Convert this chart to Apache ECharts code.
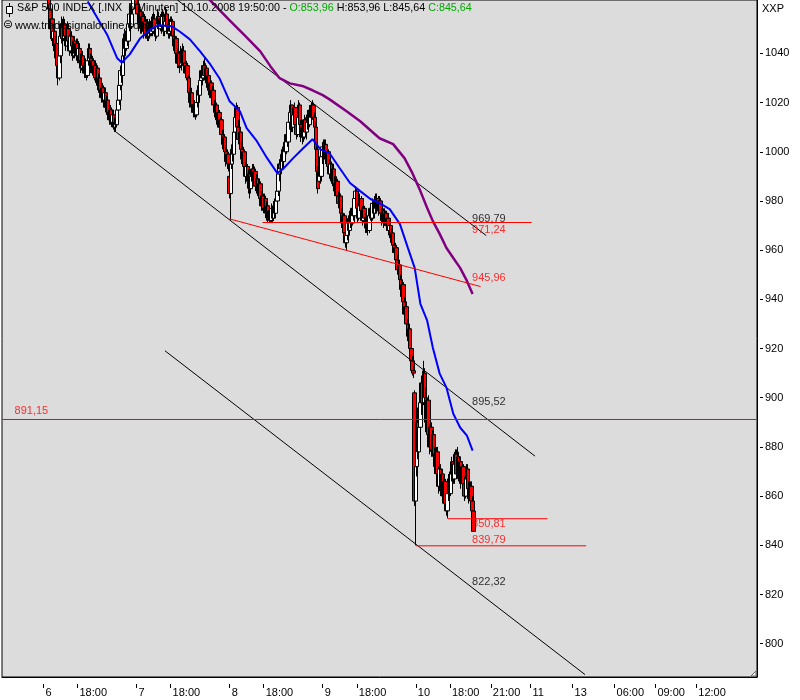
<!DOCTYPE html>
<html><head><meta charset="utf-8">
<script src="https://cdn.jsdelivr.net/npm/echarts@6/dist/echarts.min.js"></script>
<style>html,body{margin:0;padding:0;background:#fff}#c{width:800px;height:700px}</style>
</head><body><div id="c"></div>
<script>
// ---- 5-minute bars [open, close, low, high], one array per session ----
const oct6 = [
[1097,1090,1086,1099],[1090,1082,1079,1093],[1082,1078,1073,1086],[1078,1072,1068,1081],[1072,1066,1063,1076],
[1066,1058,1055,1069],[1058,1050,1046,1061],[1050,1054,1045,1057],[1054,1046,1043,1056],[1046,1049,1041,1052],
[1049,1041,1038,1050],[1041,1044,1036,1047],[1044,1035,1033,1045],[1035,1030,1027,1038],[1030,1039,1029,1041],
[1039,1047,1036,1049],[1047,1052,1044,1055],[1052,1046,1043,1054],[1046,1052,1045,1055],[1052,1047,1044,1054],
[1047,1043,1041,1050],[1043,1050,1042,1053],[1050,1045,1043,1052],[1045,1041,1039,1048],[1041,1047,1040,1050],
[1047,1043,1040,1049],[1043,1039,1037,1045],[1039,1045,1038,1047],[1045,1040,1038,1047],[1040,1044,1037,1046],
[1044,1039,1036,1046],[1039,1042,1036,1045],[1042,1037,1035,1044],[1037,1034,1032,1040],[1034,1039,1033,1041],
[1039,1035,1032,1041],[1035,1032,1030,1037],[1032,1036,1030,1038],[1036,1031,1029,1037],[1031,1037,1030,1039],
[1037,1042,1035,1044],[1042,1038,1035,1044],[1038,1034,1032,1040],[1034,1037,1031,1039],[1037,1032,1030,1038],
[1032,1035,1029,1037],[1035,1030,1028,1036],[1030,1034,1028,1036],[1034,1027,1025,1035],[1027,1030,1024,1032],
[1030,1025,1023,1031],[1025,1022,1020,1028],[1022,1026,1020,1028],[1026,1021,1018,1027],[1021,1024,1018,1026],
[1024,1018,1016,1025],[1018,1021,1015,1023],[1021,1016,1013,1022],[1016,1013,1011,1018],[1013,1017,1011,1019],
[1017,1012,1010,1018],[1012,1015,1010,1017],[1015,1010,1009,1016],[1010,1012,1008,1014],[1012,1011,1008,1015],
[1011,1017,1010,1018],[1017,1021,1015,1023],[1021,1027,1019,1028],[1027,1033,1025,1035],[1033,1031,1028,1037],
[1031,1039,1030,1042],[1039,1046,1036,1048],[1046,1042,1039,1050],[1042,1049,1041,1052],[1049,1045,1043,1053],
[1045,1052,1044,1055],[1052,1056,1049,1059],[1056,1051,1049,1060],[1051,1056,1050,1061]
];
const oct7 = [
[1058,1064,1056,1067],[1064,1069,1061,1072],[1069,1065,1062,1073],[1065,1060,1057,1068],[1060,1056,1053,1063],
[1056,1052,1049,1059],[1052,1057,1050,1060],[1057,1051,1048,1058],[1051,1055,1048,1057],[1055,1049,1046,1057],
[1049,1053,1047,1056],[1053,1048,1046,1055],[1048,1052,1046,1054],[1052,1047,1045,1054],[1047,1051,1045,1053],
[1051,1048,1046,1054],[1048,1053,1047,1055],[1053,1049,1047,1056],[1049,1054,1048,1057],[1054,1050,1047,1056],
[1050,1047,1045,1052],[1047,1052,1046,1055],[1052,1055,1050,1058],[1055,1050,1048,1057],[1050,1054,1049,1056],
[1054,1051,1048,1057],[1051,1055,1049,1058],[1055,1049,1047,1057],[1049,1053,1047,1055],[1053,1056,1051,1059],
[1056,1051,1049,1058],[1051,1048,1046,1053],[1048,1052,1046,1054],[1052,1049,1047,1055],[1049,1053,1047,1055],
[1053,1047,1045,1054],[1047,1043,1041,1049],[1043,1046,1040,1048],[1046,1040,1038,1047],[1040,1036,1034,1042],
[1036,1040,1034,1042],[1040,1035,1032,1041],[1035,1040,1034,1043],[1040,1036,1033,1042],[1036,1041,1035,1044],
[1041,1036,1034,1043],[1036,1032,1030,1038],[1032,1035,1029,1037],[1035,1030,1028,1036],[1030,1024,1022,1031],
[1024,1020,1018,1026],[1020,1024,1018,1026],[1024,1019,1017,1026],[1019,1016,1014,1021],[1016,1019,1014,1021],
[1019,1015,1013,1020],[1015,1020,1014,1022],[1020,1025,1018,1027],[1025,1023,1020,1028],[1023,1029,1022,1031],
[1029,1033,1026,1035],[1033,1030,1027,1035],[1030,1035,1029,1037],[1035,1031,1029,1038],[1031,1034,1028,1036],
[1034,1028,1026,1035],[1028,1031,1025,1033],[1031,1025,1023,1032],[1025,1028,1022,1030],[1028,1022,1020,1029],
[1022,1025,1019,1027],[1025,1019,1017,1026],[1019,1016,1014,1021],[1016,1019,1013,1020],[1019,1013,1011,1020],
[1013,1016,1011,1018],[1016,1010,1008,1017],[1010,1013,1007,1014],[1013,1007,1005,1014],[1007,1003,1001,1009],
[1003,1006,1000,1007],[1006,1000,998,1007],[1000,996,994,1002],[996,999,993,1001],[999,995,992,1000]
];
const oct8 = [
[990,983,981,992],[983,995,972,997],[995,1001,993,1003],[1001,999,996,1005],[999,1008,998,1010],
[1008,1014,1006,1016],[1014,1018,1011,1020],[1018,1010,1008,1019],[1010,1005,1003,1013],[1005,1008,1001,1010],
[1008,1001,998,1009],[1001,997,995,1004],[997,1000,993,1002],[1000,994,991,1001],[994,990,987,996],
[990,994,988,996],[994,988,985,995],[988,991,983,993],[991,985,981,992],[985,990,983,992],
[990,993,987,995],[993,988,986,995],[988,992,986,994],[992,986,984,993],[986,989,983,991],
[989,984,982,990],[984,987,981,989],[987,981,979,988],[981,978,976,984],[978,982,976,984],
[982,977,975,983],[977,981,976,983],[981,975,973,982],[975,978,972,980],[978,973,971,979],
[973,976,971,978],[976,972,971,977],[972,977,971,979],[977,973,971,978],[973,978,972,980],
[978,975,973,981],[975,980,974,982],[980,984,978,986],[984,991,982,993],[991,995,988,997],
[995,993,990,998],[993,999,992,1001],[999,996,993,1002],[996,1002,995,1004],[1002,1000,997,1005],
[1000,1007,999,1009],[1007,1004,1002,1011],[1004,1012,1003,1014],[1012,1016,1009,1018],[1016,1019,1013,1021],
[1019,1010,1008,1019],[1010,1015,1008,1017],[1015,1018,1012,1020],[1018,1011,1009,1018],[1011,1007,1005,1013],
[1007,1014,1006,1017],[1014,1019,1013,1021],[1019,1011,1009,1020],[1011,1006,1004,1013],[1006,1010,1003,1012],
[1010,1006,1004,1013],[1006,1013,1005,1015],[1013,1008,1006,1014],[1008,1012,1005,1014],[1012,1015,1009,1017],
[1015,1011,1009,1017],[1011,1017,1010,1019],[1017,1014,1012,1020],[1014,1019,1013,1021],[1019,1014,1012,1020],
[1014,1010,1008,1016],[1010,1001,999,1012],[1001,992,990,1003],[992,985,983,994]
];
const oct9 = [
[988,993,985,995],[993,990,987,996],[990,998,989,1000],[998,1002,995,1004],[1002,998,996,1005],
[998,1003,997,1005],[1003,997,995,1005],[997,1000,994,1002],[1000,994,992,1001],[994,991,989,997],
[991,995,988,997],[995,989,987,996],[989,993,986,995],[993,987,985,994],[987,984,982,990],
[984,988,982,990],[988,982,980,989],[982,979,977,984],[979,982,976,984],[982,975,973,983],
[975,971,969,977],[971,974,968,976],[974,967,965,975],[967,963,961,969],[963,966,960,968],
[966,971,964,973],[971,968,966,974],[968,974,967,976],[974,971,969,977],[971,977,970,979],
[977,974,972,980],[974,981,973,983],[981,984,978,986],[984,977,975,985],[977,973,971,979],
[973,978,972,980],[978,981,976,983],[981,976,974,982],[976,972,970,978],[972,977,971,979],
[977,973,970,978],[973,969,967,975],[969,973,967,975],[973,968,966,974],[968,974,967,976],
[974,977,972,979],[977,973,971,979],[973,979,972,981],[979,975,973,980],[975,980,974,982],
[980,977,975,983],[977,981,976,983],[981,976,974,982],[976,980,975,982],[980,975,973,981],
[975,972,970,977],[972,976,971,978],[976,971,969,977],[971,975,970,977],[975,970,968,976],
[970,973,968,975],[973,968,966,974],[968,970,965,972],[970,965,963,971],[965,967,962,969],
[967,962,960,968],[962,959,957,964],[959,961,956,963],[961,956,954,962],[956,952,950,958],
[952,954,949,956],[954,948,946,955],[948,944,941,950],[944,946,940,948],[946,939,937,947],
[939,934,932,941],[934,937,931,939],[937,930,928,938],[930,925,923,932],[925,928,922,930],
[928,920,918,929],[920,915,913,922],[915,911,909,917],[911,910,908,913]
];
const oct10 = [
[902,858,856,903],[858,872,840,874],[872,890,868,893],[890,878,875,896],[878,888,876,892],
[888,898,884,901],[898,906,893,909],[906,898,895,911],[898,910,897,915],[910,900,897,912],
[900,890,886,904],[890,899,888,903],[899,885,882,901],[885,880,877,889],[880,888,878,891],
[888,879,876,890],[879,885,876,887],[885,877,874,887],[877,872,869,880],[872,878,869,880],
[878,869,866,880],[869,864,861,872],[864,871,862,873],[871,863,860,873],[863,869,861,871],
[869,860,857,870],[860,866,857,868],[866,857,854,867],[857,854,852,860],[854,861,851,863],
[861,867,858,869],[867,861,859,870],[861,869,860,872],[869,874,866,876],[874,867,865,877],
[867,873,865,878],[873,877,870,879],[877,869,867,879],[869,876,867,880],[876,869,866,878],
[869,874,865,876],[874,866,863,875],[866,872,864,874],[872,865,862,873],[865,860,858,868],
[860,867,859,869],[867,871,864,873],[871,863,861,873],[863,859,857,866],[859,864,857,866],
[864,858,856,866],[858,854,852,860],[853.96,845.64,845.64,853.96]
];
const FIRST_SLOT = 36;      // slot of first bar
const N_SLOTS = 665;        // time slots on the x axis (incl. future space)

// ---- moving averages: [slot, value] ----
const maBlue = [[75,1061.1],[92,1047.7],[101,1038],[105,1036.3],[112,1039.6],[121,1046],[130,1049.7],[137,1051.4],
[149,1051],[156,1048.9],[165,1045.7],[174,1040.8],[183,1035.5],[191,1029.9],[200,1020.5],[209,1016.5],[215,1009.6],
[224,1004.3],[233,997.4],[242,991.3],[247,993],[256,997.4],[265,1001.5],[273,1005.1],[280,1001],[288,999.4],
[297,993.3],[306,987.3],[315,984],[324,980.8],[332,979.1],[341,976.7],[350,970.6],[357,960.9],[363,952.8],
[368,938.2],[374,931.3],[379,920.3],[385,909.8],[391,904.1],[397,893.5],[403,887.9],[409,884.6],[414,878.5]];
const maPurple = [[182,1062],[200,1053.4],[215,1046.5],[227,1040.8],[236,1034.7],[244,1029.9],[253,1027.8],
[265,1026.6],[273,1025],[282,1023],[288,1021.3],[303,1016.5],[315,1012.4],[332,1005.5],[344,1003.1],[354,997.4],
[361,991.3],[368,984],[374,977.1],[379,971.8],[385,966.6],[391,960.9],[397,956.8],[403,952.8],[409,947.5],[414,942.2]];

// ---- drawn lines: [[slot, value],[slot, value]] ----
const channelTop = [[154,1061.7],[426,965.94]];
const channelMid = [[100,1008],[469,876.24]];
const channelLow = [[143,919.1],[513,787.45]];
const redSlope   = [[200,972.7],[421,945.2]];
const redH971    = [[229,971.24],[466,971.24]];
const redH851    = [[392,850.81],[480,850.81]];
const redH840    = [[364,839.79],[514,839.79]];
const redH891    = [[0,891.15],[664,891.15]];

// ---- level labels: [slot, value, text] ----
const blackLabels = [[414,972.3,'969,79'],[414,898.2,'895,52'],[414,825,'822,32']];
const redLabels   = [[414,968.2,'971,24'],[414,948.5,'945,96'],[414,848.3,'850,81'],[414,842,'839,79'],[11,894.4,'891,15']];

// ---- axes ----
const xTickSlots  = [36,66,118,148,200,230,282,312,364,394,430,465,502,539,575,611];
const xTickLabels = ['6','18:00','7','18:00','8','18:00','9','18:00','10','18:00','21:00','11','13','06:00','09:00','12:00'];
const yTicks = [800,820,840,860,880,900,920,940,960,980,1000,1020,1040];
const Y_MIN = 786.46, Y_MAX = 1061.7;

const FONT = '"Liberation Sans", Arial, sans-serif';
const categories = Array.from({length: N_SLOTS}, (_, i) => String(i));
const labelMap = {}; xTickSlots.forEach((s, i) => labelMap[s] = xTickLabels[i]);
const rows = []; let slot = FIRST_SLOT;
[oct6, oct7, oct8, oct9, oct10].forEach(d => d.forEach(b => { rows.push([slot, b[0], b[1], b[2], b[3]]); slot++; }));

function seg(data, color, z) {
  return {type:'line', data, symbol:'none', silent:true, animation:false, clip:true, color:color,
          itemStyle:{color}, lineStyle:{color, width:1, opacity:1}, z: z || 4};
}
function lbl(data, color) {
  return {type:'scatter', data, symbolSize:1, itemStyle:{color:'rgba(0,0,0,0)'}, silent:true, animation:false, z:6,
          label:{show:true, position:[0,0], align:'left', verticalAlign:'middle', formatter: p => p.value[2],
                 color, fontSize:11, fontFamily:FONT}};
}

const chart = echarts.init(document.getElementById('c'));
chart.setOption({
  animation:false,
  backgroundColor:'#ffffff',
  grid:{left:2, right:43, top:0, bottom:23, show:true, backgroundColor:'#dcdcdc', borderColor:'#000', borderWidth:1},
  xAxis:{type:'category', data:categories, boundaryGap:true,
    axisLine:{show:true, onZero:false, lineStyle:{color:'#000', width:1}},
    axisTick:{show:true, alignWithLabel:true, length:11, interval:(i)=> labelMap[i] !== undefined,
      lineStyle:{color:'#000', width:1, type:[0,7,4,30]}},
    axisLabel:{show:true, interval:(i)=> labelMap[i] !== undefined, formatter:(v,i)=> labelMap[i] || '',
      align:'left', margin:10, padding:[0,0,0,2], color:'#000', fontSize:11, fontFamily:FONT},
    splitLine:{show:false}},
  yAxis:{type:'value', position:'right', min:Y_MIN, max:Y_MAX, scale:true,
    axisLine:{show:true, lineStyle:{color:'#000', width:1}},
    axisTick:{show:true, customValues:yTicks, length:6, lineStyle:{color:'#000', type:[0,3,3,20]}},
    axisLabel:{show:true, customValues:yTicks, margin:8, color:'#000', fontSize:11, fontFamily:FONT,
      formatter:v => String(v)},
    splitLine:{show:false}},
  series:[
    {type:'candlestick', data:rows, encode:{x:0, y:[1,2,3,4]}, barWidth:4, clip:true, z:2,
     itemStyle:{color:'#ffffff', color0:'#ff0000', borderColor:'#000000', borderColor0:'#000000', borderWidth:1}},
    seg(channelTop, '#000000'),
    seg(channelMid, '#000000'),
    seg(channelLow, '#000000'),
    seg(redH891, '#ff0000', 7),
    seg(redH971, '#ff0000', 7),
    seg(redSlope, '#ff0000', 7),
    seg(redH851, '#ff0000', 7),
    seg(redH840, '#ff0000', 7),
    {type:'line', data:maBlue, symbol:'none', smooth:false, silent:true, lineStyle:{color:'#0000ff', width:2}, z:5},
    {type:'line', data:maPurple, symbol:'none', smooth:false, silent:true, lineStyle:{color:'#800080', width:2.5}, z:5},
    lbl(blackLabels, '#000000'),
    lbl(redLabels, '#ff0000')
  ],
  graphic:[
    {type:'line', shape:{x1:9.5, y1:3, x2:9.5, y2:17}, style:{stroke:'#000', lineWidth:1}, z:100},
    {type:'rect', shape:{x:6.5, y:6.5, width:6, height:7}, style:{fill:'#fff', stroke:'#000', lineWidth:1}, z:101},
    {type:'text', left:17, top:3, z:100, style:{
      text:'{k|S&P 500 INDEX [.INX  5 Minuten] 10.10.2008 19:50:00 - }{g|O:853,96}{k| H:853,96 L:845,64 }{g|C:845,64}',
      rich:{k:{fill:'#000', fontSize:10.75, fontFamily:FONT}, g:{fill:'#00a800', fontSize:10.75, fontFamily:FONT}}}},
    {type:'text', left:3, top:19, z:100, style:{text:'⊜', fill:'#000', fontSize:12, fontFamily:'"DejaVu Sans", sans-serif'}},
    {type:'text', left:15, top:20, z:100, style:{text:'www.tradesignalonline.com', fill:'#000', fontSize:11, fontFamily:FONT}},
    {type:'text', left:762, top:3, z:100, style:{text:'XXP', fill:'#000', fontSize:11, fontFamily:FONT}},
    {type:'polyline', shape:{points:[[751,676],[756,671],[756,676],[751,676]]}, style:{fill:'#fff', stroke:'#666', lineWidth:1}, z:100}
  ]
});
</script></body></html>
